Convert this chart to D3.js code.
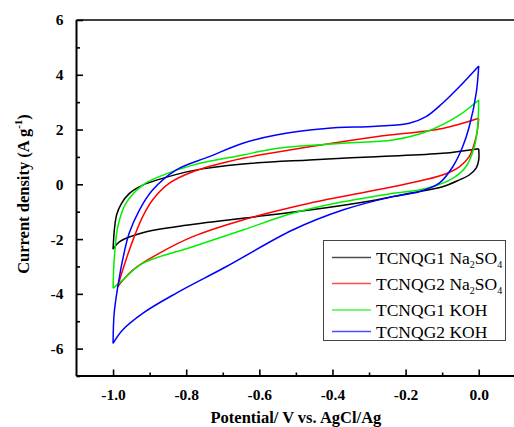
<!DOCTYPE html>
<html>
<head>
<meta charset="utf-8">
<script src="https://cdn.jsdelivr.net/npm/d3@7"></script>
<style>
  html, body { margin: 0; padding: 0; background: #fff; }
  svg { display: block; }
  svg text { font-family: "Liberation Serif", "Times New Roman", Times, "DejaVu Serif", serif; }
</style>
</head>
<body>
<svg id="chart" width="514" height="427"></svg>
<script>
// Cyclic voltammograms, [potential (V vs. AgCl/Ag), current density (A/g)].
// Each loop: anodic sweep (-1.0 -> 0.0) then cathodic sweep (0.0 -> -1.0).
const seriesNames = ["TCNQG1 Na2SO4", "TCNQG2 Na2SO4", "TCNQG1 KOH", "TCNQG2 KOH"];
const seriesColors = ["#000000", "#ff0000", "#00ee00", "#0000ff"];

const g1Na2SO4Anodic = [[-1.0,-2.37],[-0.996,-1.60],[-0.99,-1.10],[-0.978,-0.72],[-0.956,-0.34],[-0.919,-0.03],
  [-0.874,0.18],[-0.782,0.50],[-0.645,0.74],[-0.463,0.89],[-0.281,1.01],[-0.099,1.13],[0.0,1.30]];
const g1Na2SO4Cathodic = [[0.0,1.30],[0.0,0.89],[-0.007,0.59],[-0.026,0.34],[-0.053,0.16],[-0.099,-0.09],
  [-0.19,-0.33],[-0.281,-0.57],[-0.463,-0.94],[-0.645,-1.24],[-0.828,-1.55],[-0.919,-1.77],[-0.983,-2.10],[-1.0,-2.37]];

const g2Na2SO4Anodic = [[-0.988,-3.75],[-0.965,-2.77],[-0.942,-1.91],[-0.919,-1.18],[-0.892,-0.57],
  [-0.846,0.04],[-0.782,0.46],[-0.645,0.95],[-0.463,1.37],[-0.281,1.74],[-0.099,2.04],[0.0,2.41]];
const g2Na2SO4Cathodic = [[0.0,2.41],[-0.007,1.74],[-0.026,1.01],[-0.053,0.64],[-0.099,0.34],[-0.19,0.04],
  [-0.281,-0.21],[-0.463,-0.69],[-0.645,-1.30],[-0.782,-1.91],[-0.874,-2.52],[-0.946,-3.13],[-0.988,-3.75]];

const g1KohAnodic = [[-1.0,-3.80],[-0.997,-2.77],[-0.987,-1.55],[-0.965,-0.70],[-0.919,-0.03],[-0.874,0.28],
  [-0.782,0.70],[-0.645,1.07],[-0.554,1.31],[-0.372,1.50],[-0.235,1.62],[-0.144,1.92],[-0.053,2.53],[0.0,3.08]];
const g1KohCathodic = [[0.0,3.08],[-0.003,2.10],[-0.012,1.37],[-0.035,0.64],[-0.071,0.22],[-0.144,-0.15],
  [-0.235,-0.33],[-0.372,-0.64],[-0.509,-1.06],[-0.645,-1.67],[-0.782,-2.28],[-0.919,-2.89],[-0.974,-3.50],[-1.0,-3.80]];

const g2KohAnodic = [[-1.0,-5.81],[-0.997,-4.71],[-0.987,-3.74],[-0.974,-2.77],[-0.956,-1.79],[-0.928,-0.94],
  [-0.892,-0.21],[-0.828,0.52],[-0.737,1.01],[-0.645,1.50],[-0.554,1.80],[-0.418,2.04],[-0.281,2.12],
  [-0.19,2.23],[-0.144,2.47],[-0.099,2.96],[-0.053,3.56],[0.0,4.32]];
const g2KohCathodic = [[0.0,4.32],[-0.007,3.32],[-0.026,2.10],[-0.044,1.37],[-0.071,0.64],[-0.108,0.04],
  [-0.163,-0.27],[-0.235,-0.45],[-0.372,-0.94],[-0.509,-1.67],[-0.691,-3.01],[-0.828,-3.98],[-0.919,-4.71],
  [-0.974,-5.32],[-1.0,-5.81]];

const xMajorTicks = [-1.0, -0.8, -0.6, -0.4, -0.2, 0.0];
const xMinorTicks = [-0.9, -0.7, -0.5, -0.3, -0.1];
const yMajorTicks = [-6, -4, -2, 0, 2, 4, 6];
const yMinorTicks = [-7, -5, -3, -1, 1, 3, 5];

const loops = [
  [g1Na2SO4Anodic, g1Na2SO4Cathodic],
  [g2Na2SO4Anodic, g2Na2SO4Cathodic],
  [g1KohAnodic, g1KohCathodic],
  [g2KohAnodic, g2KohCathodic]
];

const svg = d3.select("#chart");
const plotLeft = 76.5, plotRight = 515.3, plotTop = 20, plotBottom = 376;
const serif = "Liberation Serif, Times New Roman, Times, DejaVu Serif, serif";

const x = d3.scaleLinear().domain([-1.1, 0.1]).range([plotLeft, plotRight]);
const y = d3.scaleLinear().domain([-7, 6]).range([plotBottom, plotTop]);

// Curves
const line = d3.line().x(d => x(d[0])).y(d => y(d[1])).curve(d3.curveCatmullRom.alpha(0.5));
const curves = svg.append("g").attr("fill", "none").attr("stroke-width", 1.5).attr("stroke-linejoin", "round");
loops.forEach((branches, i) => {
  curves.append("path")
    .attr("stroke", seriesColors[i])
    .attr("d", branches.map(b => line(b)).join(""));
});

// Frame (top and right edges)
svg.append("line").attr("x1", plotLeft).attr("x2", plotRight).attr("y1", plotTop).attr("y2", plotTop)
  .attr("stroke", "#000").attr("stroke-width", 1.6);
svg.append("line").attr("x1", plotRight).attr("x2", plotRight).attr("y1", plotTop).attr("y2", plotBottom)
  .attr("stroke", "#000").attr("stroke-width", 1.6);

// Bottom axis, ticks pointing inward
const xAxis = svg.append("g").attr("transform", `translate(0,${plotBottom})`);
xAxis.call(d3.axisBottom(x).tickValues(xMinorTicks).tickSize(-3.5).tickFormat(""));
xAxis.call(g => g.select(".domain").remove());
const xAxisMajor = svg.append("g").attr("transform", `translate(0,${plotBottom})`)
  .call(d3.axisBottom(x).tickValues(xMajorTicks).tickSize(-6.5).tickPadding(13).tickFormat(d3.format(".1f")));
xAxisMajor.attr("font-family", serif);
xAxisMajor.select(".domain").attr("d", `M${plotLeft},0H${plotRight}`).attr("stroke-width", 2);
xAxisMajor.selectAll(".tick line").attr("stroke-width", 1.6);
xAxis.selectAll(".tick line").attr("stroke-width", 1.6);
xAxisMajor.selectAll(".tick text")
  .attr("font-size", 15.5).attr("font-weight", "bold")
  .text(d => d3.format(".1f")(d).replace("−", "-"));

// Left axis, ticks pointing inward
const yAxis = svg.append("g").attr("transform", `translate(${plotLeft},0)`);
yAxis.call(d3.axisLeft(y).tickValues(yMinorTicks).tickSize(-3.5).tickFormat(""));
yAxis.call(g => g.select(".domain").remove());
const yAxisMajor = svg.append("g").attr("transform", `translate(${plotLeft},0)`)
  .call(d3.axisLeft(y).tickValues(yMajorTicks).tickSize(-6.5).tickPadding(13));
yAxisMajor.attr("font-family", serif);
yAxisMajor.select(".domain").attr("d", `M0,${plotTop}V${plotBottom}`).attr("stroke-width", 2);
yAxisMajor.selectAll(".tick line").attr("stroke-width", 1.6);
yAxis.selectAll(".tick line").attr("stroke-width", 1.6);
yAxisMajor.selectAll(".tick text")
  .attr("font-size", 15.5).attr("font-weight", "bold")
  .text(d => String(d));

// Axis titles
svg.append("text")
  .attr("x", (plotLeft + plotRight) / 2).attr("y", 423)
  .attr("text-anchor", "middle").attr("font-size", 16.5).attr("font-weight", "bold")
  .text("Potential/ V vs. AgCl/Ag");

const yTitle = svg.append("text")
  .attr("transform", `translate(29,194) rotate(-90)`)
  .attr("text-anchor", "middle").attr("font-size", 16.5).attr("font-weight", "bold");
yTitle.append("tspan").text("Current density (A g");
yTitle.append("tspan").attr("dy", -7).attr("font-size", 11).text("-1");
yTitle.append("tspan").attr("dy", 7).text(")");

// Legend
const legend = svg.append("g");
legend.append("rect").attr("x", 323.5).attr("y", 240.5).attr("width", 182).attr("height", 100)
  .attr("fill", "#fff").attr("stroke", "#444").attr("stroke-width", 1);
const lineYs = [257.5, 283.5, 310, 331.5];
const textYs = [263.5, 289.5, 316, 337.5];
const legendLabels = [
  ["TCNQG1 Na", "2", "SO", "4"],
  ["TCNQG2 Na", "2", "SO", "4"],
  ["TCNQG1 KOH"],
  ["TCNQG2 KOH"]
];
legendLabels.forEach((parts, i) => {
  legend.append("line").attr("x1", 332).attr("x2", 371).attr("y1", lineYs[i]).attr("y2", lineYs[i])
    .attr("stroke", seriesColors[i]).attr("stroke-width", 1.5).attr("stroke-opacity", 0.7);
  const t = legend.append("text").attr("x", 376).attr("y", textYs[i]).attr("font-size", 17.5);
  t.append("tspan").text(parts[0]);
  if (parts.length > 1) {
    t.append("tspan").attr("dy", 4).attr("font-size", 10).text(parts[1]);
    t.append("tspan").attr("dy", -4).text(parts[2]);
    t.append("tspan").attr("dy", 4).attr("font-size", 10).text(parts[3]);
  }
});
</script>
</body>
</html>
